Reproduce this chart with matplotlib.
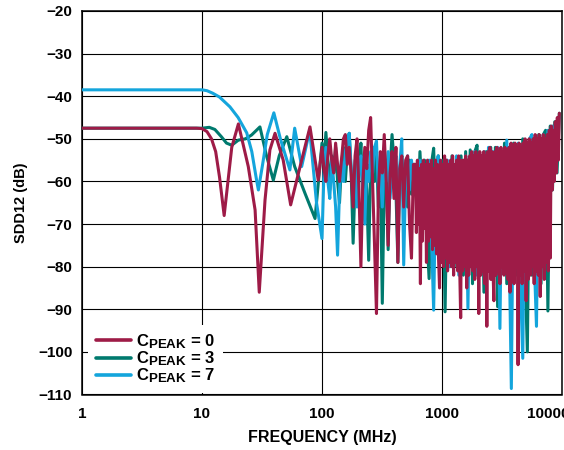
import numpy as np
import matplotlib
matplotlib.use("Agg")
import matplotlib.pyplot as plt
import matplotlib._mathtext as mathtext_impl
from matplotlib.ticker import FixedLocator, FixedFormatter, NullLocator

# SDD12 vs frequency for three CPEAK settings.
# Below 100 MHz the sweep is sparse (explicit points); above that the
# sweep is dense: 100-600 MHz and 600-9500 MHz segments.

# CPEAK = 0
f_low_c0 = [1, 9, 10, 11, 12, 13, 14, 15.3, 17.7, 20.1, 24.3, 27.7, 30, 33.5,
            36.8, 40.6, 47.5, 54.8, 67.7, 79.4, 93]
db_low_c0 = [-47.5, -47.5, -47.6, -48.3, -50, -53, -59, -68, -52, -46.5, -56.5,
             -66.7, -86, -64.4, -52.6, -48.7, -55, -65.5, -55, -47.2, -59.7]
db_mid_c0 = [-52, -57, -60, -54, -50, -55, -58, -51, -56, -60, -55, -50,
             -49, -56, -52, -58, -66, -54, -50, -62, -80, -60, -52, -57,
             -48, -45, -60, -75, -91, -62, -53, -58, -49, -60, -75, -58,
             -53, -64, -52, -79, -57, -54, -66, -55, -54, -70, -78, -56]
db_hi_c0 = [-56, -72, -55, -70, -57, -84, -56, -74, -55, -71, -56, -79,
            -55, -74, -56, -73, -55, -76, -57, -75, -55, -77, -56, -78,
            -85, -55, -79, -56, -80, -54, -78, -55, -81, -56, -79, -55,
            -80, -54, -82, -56, -79, -55, -81, -54, -80, -92, -55, -81,
            -55, -80, -54, -85, -55, -82, -54, -80, -53, -81, -54, -83,
            -53, -80, -54, -91, -53, -82, -54, -81, -53, -84, -54, -94,
            -53, -81, -52, -83, -53, -80, -88, -53, -82, -52, -81, -53,
            -84, -52, -80, -53, -82, -52, -81, -53, -83, -52, -86, -51,
            -82, -52, -84, -51, -80, -52, -103, -51, -82, -52, -84, -51,
            -81, -50, -88, -51, -83, -50, -82, -51, -80, -50, -84, -49,
            -81, -50, -82, -49, -87, -50, -80, -49, -83, -50, -79, -49,
            -81, -48, -78, -47, -62, -48, -60, -46, -58, -45, -55, -44]

# CPEAK = 3
f_low_c3 = [1, 10, 11.5, 12.8, 14.5, 16, 17.7, 20.1, 23, 25.9, 30.4, 34.5,
            39.3, 44, 50.9, 59.2, 72.2, 87.5]
db_low_c3 = [-47.5, -47.5, -47.3, -47.8, -49.5, -51, -51.5, -50.3, -50, -49.1,
             -47.2, -54, -59.7, -54, -49.5, -56.5, -62.8, -68.7]
db_mid_c3 = [-51, -56, -48.5, -55, -62, -54, -58, -52, -60, -65, -56, -52,
             -60, -53, -48.7, -58, -74.5, -60, -53, -57, -51, -64, -56, -62,
             -78.5, -56, -52, -60, -54, -66, -58, -88.6, -60, -55, -76, -57,
             -49, -55, -62, -79, -57, -54, -60, -56, -66, -55, -63, -56]
db_hi_c3 = [-56, -70, -53, -64, -55, -72, -82.8, -56, -52.2, -70, -54, -78,
            -55, -90.6, -56, -74, -54, -80, -55, -76, -54, -82, -53, -78,
            -52.6, -84, -53, -51.5, -80, -54, -86, -53, -79, -52, -83, -52,
            -89.4, -53, -80, -51, -84, -52, -78, -51, -82, -52, -86, -50,
            -80, -100, -51, -82, -50, -78, -49, -84, -49, -48, -90.4, -47,
            -62, -46, -58, -44]

# CPEAK = 7
f_low_c7 = [1, 10, 11, 12.3, 14, 17.1, 20, 23.6, 26, 28.5, 29.5, 32, 35,
            39.7, 45, 54, 59.2, 67.7, 79, 90]
db_low_c7 = [-38.5, -38.5, -38.7, -39.3, -40.2, -42.5, -45, -48.6, -53, -59.7,
             -62, -56, -49, -43.9, -50, -57.3, -47.5, -56.5, -48, -65]
db_mid_c7 = [-73.4, -58, -52, -60, -64, -55, -60, -66, -77.3, -62, -55, -60,
             -53, -51, -48.7, -57, -62, -55, -66, -58, -54, -62, -70, -56,
             -60, -53, -58, -52, -50.5, -62, -57, -66, -55, -60, -53, -64,
             -56, -60, -54, -66, -56, -50, -79.6, -58, -54, -62, -55, -60]
db_hi_c7 = [-58, -66, -55, -70, -56, -64, -55, -72, -90.2, -57, -54, -76,
            -56, -70, -55, -80, -56, -74, -54, -82, -55, -72, -54, -89.8,
            -55, -78, -53, -82, -54, -76, -53, -84, -52, -80, -53, -78,
            -52, -94.5, -53, -80, -50.3, -74, -108.6, -52, -80, -51, -84, -101.5,
            -52, -82, -50, -49, -78, -94, -50, -80, -49, -76, -48, -60,
            -47, -56, -46, -45]

# unlabelled extra trace, 3.8-9 GHz, mostly hidden under the others
f_aux = [3800, 4200, 4600, 5000, 5400, 5800, 6300, 6800, 7400, 8000, 8600, 9000]
db_aux = [-60, -64, -58, -63, -60, -62, -57, -60, -55, -57, -52, -54]

labels = ["0", "3", "7"]
colors = ["#9E1B47", "#007A6E", "#14A5DC"]
aux_color = "#0000EE"

y_ticks = list(range(-110, -10, 10))
x_ticks = [1, 10, 100, 1000, 10000]


def build_trace(f_low, db_low, db_mid, db_hi):
    f_mid = np.geomspace(100, 600, len(db_mid) + 1)[:-1]
    f_hi = np.geomspace(600, 9500, len(db_hi))
    f = np.concatenate([f_low, f_mid, f_hi])
    db = np.concatenate([db_low, db_mid, db_hi])
    return f, db


plt.rcParams["font.family"] = ["Liberation Sans", "DejaVu Sans"]
plt.rcParams["font.weight"] = "bold"
plt.rcParams["mathtext.fontset"] = "custom"
plt.rcParams["mathtext.bf"] = "Liberation Sans:bold"
plt.rcParams["mathtext.rm"] = "Liberation Sans:bold"
plt.rcParams["path.simplify"] = False
# larger subscripts for the C_PEAK legend labels
mathtext_impl.SHRINK_FACTOR = 0.8

fig = plt.figure(figsize=(5.64, 4.5), dpi=100)
ax = fig.add_axes([82 / 564, 1 - 394.5 / 450, 480 / 564, 383.5 / 450])

traces = {
    "0": build_trace(f_low_c0, db_low_c0, db_mid_c0, db_hi_c0),
    "3": build_trace(f_low_c3, db_low_c3, db_mid_c3, db_hi_c3),
    "7": build_trace(f_low_c7, db_low_c7, db_mid_c7, db_hi_c7),
}
color_of = dict(zip(labels, colors))
zorder_of = {"3": 3, "7": 4, "0": 6}

handles = {}
for key in labels:
    f, db = traces[key]
    (ln,) = ax.plot(f, db, color=color_of[key], lw=2.2, zorder=zorder_of[key],
                    solid_joinstyle="round", solid_capstyle="round",
                    label=r"$\mathbf{C_{PEAK}}$ = " + key)
    handles[key] = ln

ax.plot(f_aux, db_aux, color=aux_color, lw=2.2, zorder=5)

ax.set_xscale("log")
ax.set_xlim(1, 10000)
ax.set_ylim(-110, -20)
ax.xaxis.set_major_locator(FixedLocator(x_ticks))
# last decade label sits a little left of its gridline and runs off the edge
ax.xaxis.set_major_formatter(FixedFormatter([str(t) for t in x_ticks[:-1]] + [""]))
ax.annotate(str(x_ticks[-1]), xy=(x_ticks[-1], 0), xycoords=("data", "axes fraction"),
            xytext=(-10, -9), textcoords="offset points", ha="center", va="top",
            fontsize=11, fontweight="bold", annotation_clip=False)
ax.xaxis.set_minor_locator(NullLocator())
ax.set_yticks(y_ticks)
ax.set_yticklabels([f"\u2212{abs(t)}" for t in y_ticks])

ax.grid(True, color="black", lw=0.8, zorder=1)
ax.set_axisbelow(True)
for sp in ax.spines.values():
    sp.set_linewidth(1.1)
ax.tick_params(length=0, labelsize=11)
ax.tick_params(axis="y", pad=7)
ax.tick_params(axis="x", pad=9)

ax.set_xlabel("FREQUENCY (MHz)", fontsize=11.5, fontweight="bold", labelpad=6.5)
ax.set_ylabel("SDD12 (dB)", fontsize=10.5, fontweight="bold", labelpad=7)

leg = ax.legend([handles[k] for k in labels], [handles[k].get_label() for k in labels],
                loc="lower left", bbox_to_anchor=(0.0125, 0.005), borderaxespad=0,
                frameon=True, fancybox=False, framealpha=1, edgecolor="none",
                facecolor="white", fontsize=12, handlelength=2.1,
                handletextpad=0.33, labelspacing=-0.1, borderpad=0.45)
leg.set_zorder(10)
for lh in leg.get_lines():
    lh.set_linewidth(2.6)

fig.savefig("out.png", dpi=100)
